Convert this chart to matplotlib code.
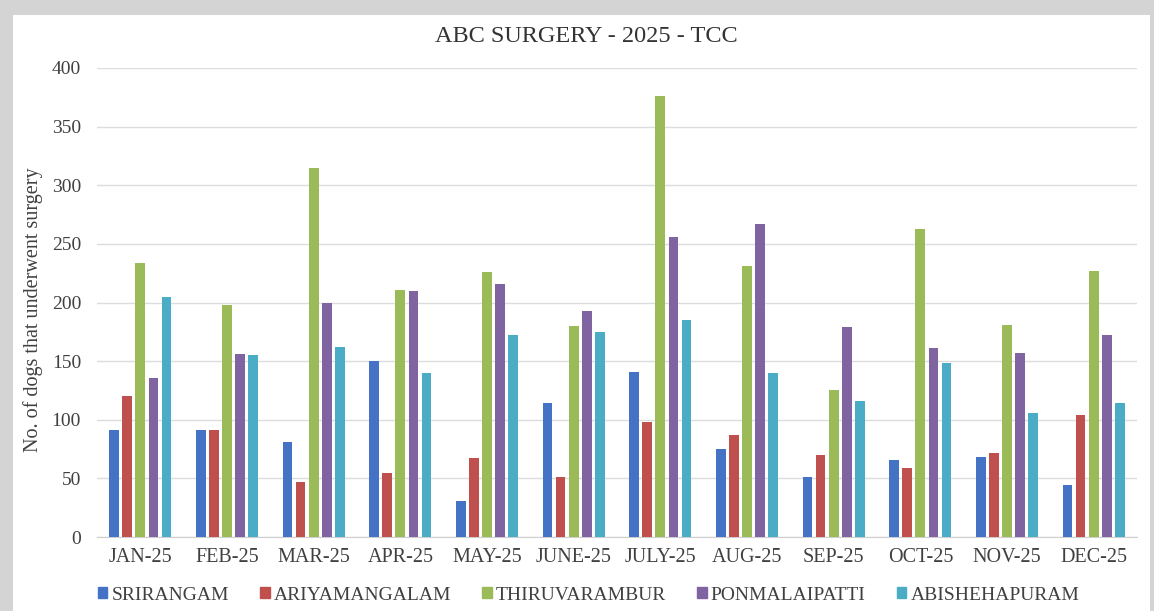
import matplotlib
matplotlib.use("Agg")
import matplotlib.pyplot as plt
import numpy as np
from matplotlib.patches import Rectangle

months = ["JAN-25", "FEB-25", "MAR-25", "APR-25", "MAY-25", "JUNE-25",
          "JULY-25", "AUG-25", "SEP-25", "OCT-25", "NOV-25", "DEC-25"]
srirangam = [91, 91, 81, 150, 31, 114, 141, 75, 51, 66, 68, 44]
ariyamangalam = [120, 91, 47, 55, 67, 51, 98, 87, 70, 59, 72, 104]
thiruvarambur = [234, 198, 315, 211, 226, 180, 376, 231, 125, 263, 181, 227]
ponmalaipatti = [136, 156, 200, 210, 216, 193, 256, 267, 179, 161, 157, 172]
abishehapuram = [205, 155, 162, 140, 172, 175, 185, 140, 116, 148, 106, 114]

series_names = ["SRIRANGAM", "ARIYAMANGALAM", "THIRUVARAMBUR", "PONMALAIPATTI", "ABISHEHAPURAM"]
series = [srirangam, ariyamangalam, thiruvarambur, ponmalaipatti, abishehapuram]
colors = ["#4472C4", "#C0504D", "#9BBB59", "#8064A2", "#4BACC6"]

plt.rcParams['font.family'] = ['Liberation Serif', 'DejaVu Serif']

fig = plt.figure(figsize=(11.54, 6.11), dpi=100)
fig.patch.set_facecolor("#d4d4d4")
fig.add_artist(Rectangle((13/1154, 0), (1150-13)/1154, 1-15/611,
                         transform=fig.transFigure, facecolor="white",
                         edgecolor="none", zorder=0))

ax = fig.add_axes([97/1154, 1-537/611, (1137-97)/1154, (537-68)/611])
ax.set_facecolor("white")
x = np.arange(len(months))
step = 0.151
width = 0.113
for i, (name, vals, c) in enumerate(zip(series_names, series, colors)):
    ax.bar(x + (i - 2) * step, vals, width=width, color=c, label=name, zorder=3)

ax.set_xlim(-0.5, len(months) - 0.5)
ax.set_ylim(0, 400)
ax.set_yticks(np.arange(0, 401, 50))
ax.set_xticks(x)
ax.set_xticklabels(months, fontsize=14.5, color="#404040")
ax.tick_params(axis='y', labelsize=14, colors="#404040", length=0, pad=11.5)
ax.tick_params(axis='x', length=0, pad=8)
ax.grid(axis='y', color="#dcdcdc", linewidth=1.0, zorder=0)
for s in ["top", "right", "left"]:
    ax.spines[s].set_visible(False)
ax.spines["bottom"].set_color("#cfcfcf")
ax.set_ylabel("No. of dogs that underwent surgery", fontsize=14.5, color="#404040")
ax.yaxis.set_label_coords(-0.052, 0.484)

fig.text(586/1154, 1 - 36/611, "ABC SURGERY - 2025 - TCC", ha="center", va="center",
         fontsize=17.5, color="#333333")

handles = [plt.Rectangle((0, 0), 1, 1, color=c) for c in colors]
fig.legend(handles, series_names, loc="center", bbox_to_anchor=(588.5/1154, 1 - 595/611),
           ncol=5, frameon=False, fontsize=14, handlelength=0.5, handleheight=0.5,
           handletextpad=0.2, columnspacing=1.6, labelcolor="#404040")

fig.savefig("out.png", dpi=100, facecolor=fig.get_facecolor())
